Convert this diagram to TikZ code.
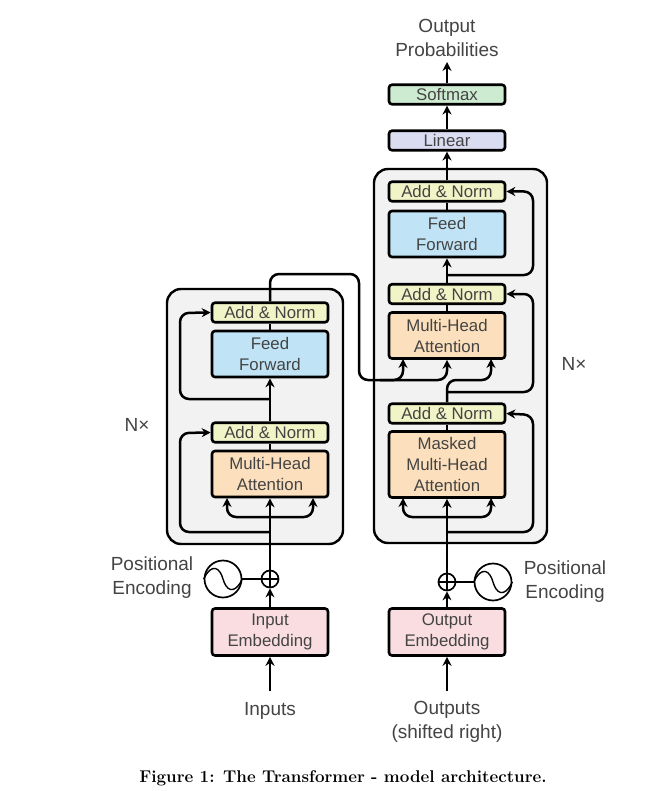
\documentclass[tikz,border=0pt]{standalone}
\usepackage{fontspec}
\newfontfamily\labelfont{Liberation Sans}
\usetikzlibrary{arrows.meta}
\definecolor{normcol}{HTML}{F1F4C6}
\definecolor{feedcol}{HTML}{C0E4F6}
\definecolor{attncol}{HTML}{FCDFBC}
\definecolor{embedcol}{HTML}{F9DDE1}
\definecolor{linearcol}{HTML}{DADCF1}
\definecolor{softcol}{HTML}{CDEBD0}
\definecolor{stackcol}{HTML}{F2F2F2}
\definecolor{inkcol}{HTML}{444444}
\tikzset{
	block/.style={draw=black,line width=2.6pt,rounded corners=3pt,minimum width=116pt,inner sep=0pt,align=center,text=inkcol,font=\labelfont\fontsize{16.8}{21}\selectfont},
	normblock/.style={block,fill=normcol,minimum height=19.5pt},
	feedblock/.style={block,fill=feedcol,minimum height=46pt},
	attnblock/.style={block,fill=attncol,minimum height=46pt},
	embedblock/.style={block,fill=embedcol,minimum height=47pt},
	stackbox/.style={draw=black,line width=2.4pt,fill=stackcol,rounded corners=14pt},
	label/.style={align=center,inner sep=0pt,text=inkcol,font=\labelfont\fontsize{19}{24}\selectfont},
	flow/.style={line width=2.5pt,rounded corners=9pt,-{Stealth[length=9pt,width=9pt]}},
	plainflow/.style={line width=2.5pt},
	addcircle/.style={draw=black,line width=1.7pt,fill=white,circle,minimum size=17pt,inner sep=0pt},
	sinecircle/.style={draw=black,line width=1.7pt,fill=white,circle,minimum size=37pt,inner sep=0pt}
}
\begin{document}
\begin{tikzpicture}[x=1pt,y=-1pt]
	\useasboundingbox (0,0) rectangle (662,791);
	\fill[white] (0,0) rectangle (662,791);

	\draw[stackbox] (167,289) rectangle (343,544);
	\draw[stackbox] (374,169) rectangle (547,543);

	\node[embedblock] (inembed) at (270,632) {Input\\Embedding};
	\node[attnblock] (encattn) at (270,474) {Multi-Head\\Attention};
	\node[normblock] (encnormA) at (270,432.5) {Add \& Norm};
	\node[feedblock] (encfeed) at (270,354) {Feed\\Forward};
	\node[normblock] (encnormB) at (270,312.5) {Add \& Norm};

	\node[embedblock] (outembed) at (447,632) {Output\\Embedding};
	\node[attnblock,minimum height=66pt] (decmask) at (447,464.5) {Masked\\Multi-Head\\Attention};
	\node[normblock] (decnormA) at (447,413.5) {Add \& Norm};
	\node[attnblock] (decattn) at (447,335.5) {Multi-Head\\Attention};
	\node[normblock] (decnormB) at (447,294) {Add \& Norm};
	\node[feedblock] (decfeed) at (447,234) {Feed\\Forward};
	\node[normblock] (decnormC) at (447,191.5) {Add \& Norm};
	\node[normblock,fill=linearcol] (linear) at (447,140.5) {Linear};
	\node[normblock,fill=softcol] (softmax) at (447,94.5) {Softmax};

	\node[addcircle] (encplus) at (270,579) {};
	\node[addcircle] (decplus) at (447,582) {};
	\node[sinecircle] (encsine) at (223,579) {};
	\node[sinecircle] (decsine) at (493,582) {};

	\node[label] (inlabel) at (270,711) {Inputs};
	\node[label] (outlabel) at (447,722) {Outputs\\(shifted right)};
	\node[label] (problabel) at (447,37.5) {Output\\Probabilities};
	\node[label] (encpos) at (152,578) {Positional\\Encoding};
	\node[label] (decpos) at (565,582) {Positional\\Encoding};
	\node[label] (encN) at (137,425) {N×};
	\node[label] (decN) at (574,364) {N×};
	\node[inner sep=0pt,text=black,font=\bfseries\fontsize{17}{20}\selectfont] (figcaption) at (343,778) {Figure 1: The Transformer - model architecture.};

	\coordinate (encin) at (270,691);
	\coordinate (decin) at (447,691);
	\coordinate (encfork) at (270,517);
	\coordinate (encloopA) at (270,532);
	\coordinate (encloopB) at (270,399);
	\coordinate (busmid) at (380,380);
	\coordinate (decfork) at (447,517);
	\coordinate (decloopA) at (447,532);
	\coordinate (decloopB) at (447,392);
	\coordinate (decloopC) at (447,275);

	\draw[flow] (encin) -- (inembed.south);
	\draw[flow] (decin) -- (outembed.south);
	\draw[flow] (inembed.north) -- (encplus.south);
	\draw[flow] (outembed.north) -- (decplus.south);
	\draw[flow] (encplus.north) -- (encattn.south);
	\draw[flow] (decplus.north) -- (decmask.south);
	\draw[plainflow] (encsine.east) -- (encplus.west);
	\draw[plainflow] (decsine.west) -- (decplus.east);

	\draw[flow] (encfork) -- (227,517) -- (227,498);
	\draw[flow] (encfork) -- (313,517) -- (313,498);
	\draw[flow] (encloopA) -- (180,532) -- (180,433) -- (encnormA.west);
	\draw[plainflow] (encattn.north) -- (encnormA.south);
	\draw[flow] (encnormA.north) -- (encfeed.south);
	\draw[flow] (encloopB) -- (180,399) -- (180,313) -- (encnormB.west);
	\draw[plainflow] (encfeed.north) -- (encnormB.south);

	\draw[flow] (decfork) -- (403,517) -- (403,498);
	\draw[flow] (decfork) -- (491,517) -- (491,498);
	\draw[flow] (decloopA) -- (533,532) -- (533,415) -- (decnormA.east);
	\draw[plainflow] (decmask.north) -- (decnormA.south);
	\draw[flow] (decnormA.north) -- (447,380) -- (491,380) -- (491,359);
	\draw[flow] (decloopB) -- (533,392) -- (533,294) -- (decnormB.east);
	\draw[plainflow] (decattn.north) -- (decnormB.south);
	\draw[flow] (decnormB.north) -- (decfeed.south);
	\draw[flow] (decloopC) -- (533,275) -- (533,191.5) -- (decnormC.east);
	\draw[plainflow] (decfeed.north) -- (decnormC.south);

	\draw[flow] (encnormB.north) -- (270,274) -- (359,274) -- (359,380) -- (403,380) -- (403,359);
	\draw[flow] (busmid) -- (447,380) -- (decattn.south);

	\draw[flow] (decnormC.north) -- (linear.south);
	\draw[flow] (linear.north) -- (softmax.south);
	\draw[flow] (softmax.north) -- (447,62);

	\draw[line width=1.2pt] (encplus.west) -- (encplus.east) (encplus.north) -- (encplus.south);
	\draw[line width=1.2pt] (decplus.west) -- (decplus.east) (decplus.north) -- (decplus.south);
	\draw[line width=1.4pt] (encsine.west) .. controls (212,562) and (220,568) .. (223,579) .. controls (226,590) and (234,596) .. (encsine.east);
	\draw[line width=1.4pt] (decsine.west) .. controls (482,565) and (490,571) .. (493,582) .. controls (496,593) and (504,599) .. (decsine.east);
\end{tikzpicture}
\end{document}
